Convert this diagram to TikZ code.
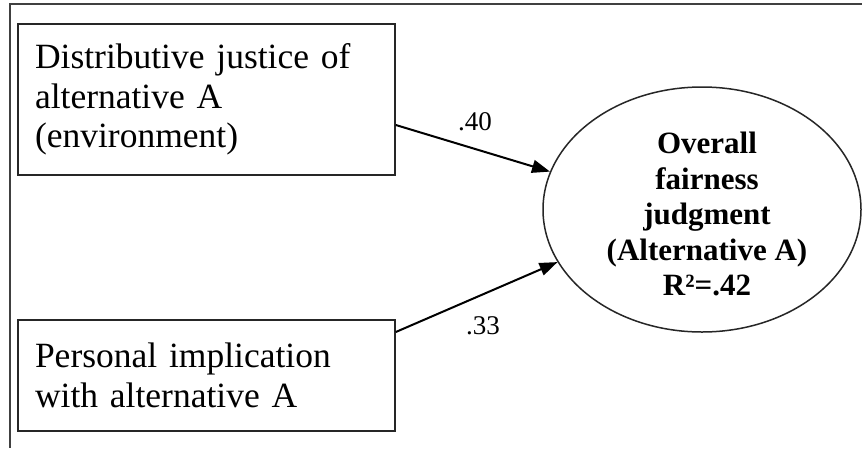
\documentclass[tikz,border=0pt]{standalone}
\usepackage{fontspec}
\setmainfont{Liberation Serif}
\usetikzlibrary{arrows.meta,shapes.geometric}
\begin{document}
\begin{tikzpicture}[x=1pt,y=-1pt,
  frameline/.style={draw=black!75,line width=2pt},
  varbox/.style={draw=black!85,line width=1.6pt,rectangle,inner xsep=17pt,inner ysep=0pt,
    text width=343pt,align=left,minimum width=377pt,font=\fontsize{35.5}{39.5}\selectfont},
  latentell/.style={draw=black!85,line width=1.5pt,ellipse,inner sep=0pt,
    minimum width=318pt,minimum height=245pt},
  elltxt/.style={align=center,font=\bfseries\fontsize{31}{35.5}\selectfont,inner sep=0pt},
  pathlab/.style={font=\fontsize{27}{30}\selectfont,inner sep=0pt},
  arr/.style={line width=2pt,-{Triangle[length=18pt,width=13pt]}}]
\useasboundingbox (0,0) rectangle (862,448);
\fill[white] (0,0) rectangle (862,448);
\coordinate (ftop) at (862,4);
\coordinate (fcorner) at (10,4);
\coordinate (fbottom) at (10,448);
\draw[frameline] (ftop) -- (fcorner) -- (fbottom);
\node[varbox,minimum height=151pt] (box1) at (206.5,99.5)
  {Distributive justice of\\alternative A\\(environment)};
\node[varbox,minimum height=111pt] (box2) at (206.5,375.5)
  {Personal implication\\with alternative A};
\node[latentell] (ell) at (702,209.5) {};
\node[elltxt] (elltext) at (707,214) {Overall\\fairness\\judgment\\(Alternative A)\\R²=.42};
\coordinate (s1) at ([yshift=-25.5pt]box1.east);
\coordinate (s2) at ([yshift=43.5pt]box2.east);
\draw[arr] (s1) -- (ell.166);
\draw[arr] (s2) -- (ell.200);
\node[pathlab] (l40) at (475,122) {.40};
\node[pathlab] (l33) at (483,326) {.33};
\end{tikzpicture}
\end{document}
